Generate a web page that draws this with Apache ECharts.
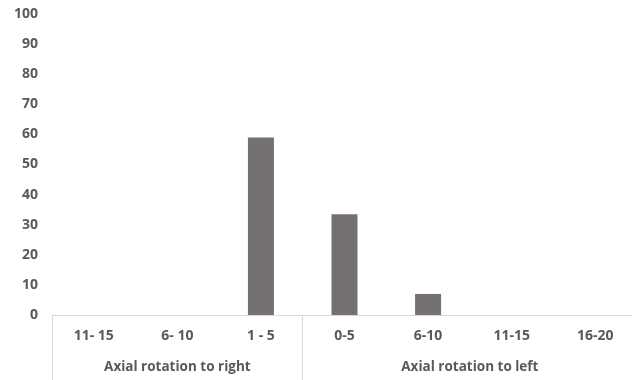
<!DOCTYPE html>
<html>
<head>
<meta charset="utf-8">
<script src="https://cdn.jsdelivr.net/npm/echarts@6/dist/echarts.min.js"></script>
<style>
html,body{margin:0;padding:0;background:#fff;}
#chart{width:632px;height:380px;}
</style>
</head>
<body>
<div id="chart"></div>
<script>
var categories = ['11- 15', '6- 10', '1 - 5', '0-5', '6-10', '11-15', '16-20'];
var values = [0, 0, 59, 33.5, 7, 0, 0];
var groupNames = ['Axial rotation to right', 'Axial rotation to left'];
var groupCenters = [1.5, 5];
var groupBounds = [0, 3, 7];

var textColor = '#595959';
var font = 'Open Sans';

var chart = echarts.init(document.getElementById('chart'), null, {renderer: 'canvas'});
chart.setOption({
  animation: false,
  backgroundColor: '#ffffff',
  grid: {
    left: 52, top: 14, width: 585, height: 301,
    containLabel: false,
    outerBoundsMode: 'none'
  },
  xAxis: [
    {
      type: 'category',
      data: categories,
      position: 'bottom',
      axisLine: {show: true, lineStyle: {color: '#d9d9d9', width: 1}},
      axisTick: {show: false},
      axisLabel: {
        color: textColor, fontFamily: font, fontWeight: 'bold', fontSize: 14,
        margin: 14, interval: 0
      },
      splitLine: {show: false}
    },
    {
      type: 'value',
      min: 0, max: 7,
      position: 'bottom',
      axisLine: {show: false},
      axisTick: {
        show: true, customValues: groupBounds, length: 66, inside: false,
        lineStyle: {color: '#d9d9d9', width: 1}
      },
      axisLabel: {
        show: true, customValues: groupCenters, margin: 45,
        color: textColor, fontFamily: font, fontWeight: 'bold', fontSize: 13.5,
        formatter: function (v) {
          var i = groupCenters.indexOf(v);
          return i >= 0 ? groupNames[i] : '';
        }
      },
      splitLine: {show: false}
    }
  ],
  yAxis: {
    type: 'value',
    min: 0, max: 100, interval: 10,
    axisLine: {show: false},
    axisTick: {show: false},
    splitLine: {show: false},
    axisLabel: {
      color: textColor, fontFamily: font, fontWeight: 'bold', fontSize: 14, margin: 14
    }
  },
  series: [{
    type: 'bar',
    xAxisIndex: 0,
    data: values,
    barWidth: 26,
    itemStyle: {color: '#767171'}
  }]
});
</script>
</body>
</html>
